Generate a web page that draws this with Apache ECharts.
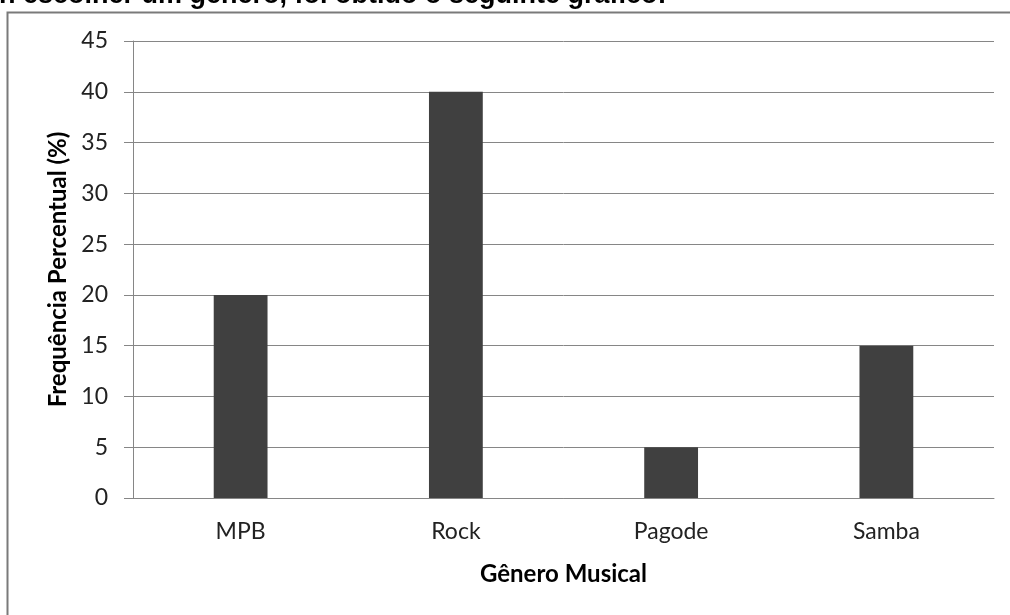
<!DOCTYPE html>
<html>
<head>
<meta charset="utf-8">
<script src="https://cdn.jsdelivr.net/npm/echarts@6/dist/echarts.min.js"></script>
<style>
html,body{margin:0;padding:0;background:#fff;}
#chart{width:1010px;height:615px;}
</style>
</head>
<body>
<div id="chart"></div>
<script>
const categories = ['MPB', 'Rock', 'Pagode', 'Samba'];
const values = [20, 40, 5, 15];
const yTicks = [0, 5, 10, 15, 20, 25, 30, 35, 40, 45];
const headerText = 'n escolher um gênero, foi obtido o seguinte gráfico:';
const xTitle = 'Gênero Musical';
const yTitle = 'Frequência Percentual (%)';

const chart = echarts.init(document.getElementById('chart'), null, {renderer: 'canvas'});
const font = 'Lato, "Open Sans", sans-serif';
chart.setOption({
  animation: false,
  backgroundColor: '#fff',
  graphic: [
    {
      type: 'rect', z: 0,
      shape: {x: 7.5, y: 12.5, width: 1100, height: 700},
      style: {fill: 'none', stroke: '#7a7a7a', lineWidth: 2}
    },
    {
      type: 'text', z: 10,
      style: {
        text: headerText, x: -1, y: -4.5, verticalAlign: 'middle',
        font: 'bold 27px "Liberation Sans", Arial, sans-serif', fill: '#000'
      }
    }
  ],
  grid: {left: 133, top: 41, right: 16, bottom: 117, containLabel: false},
  xAxis: {
    type: 'category',
    data: categories,
    axisLine: {show: true, lineStyle: {color: '#868686', width: 1}},
    axisTick: {show: false},
    axisLabel: {color: '#222', fontSize: 23, fontFamily: font, margin: 22},
    name: xTitle,
    nameLocation: 'middle',
    nameGap: 64,
    nameTextStyle: {color: '#000', fontSize: 24, fontWeight: 'bold', fontFamily: font}
  },
  yAxis: {
    type: 'value',
    min: 0, max: 45, interval: 5,
    axisLine: {show: true, lineStyle: {color: '#868686', width: 1}},
    axisTick: {show: true, length: 9, lineStyle: {color: '#868686'}},
    axisLabel: {color: '#222', fontSize: 23, fontFamily: font, margin: 25,
      formatter: v => yTicks.includes(v) ? String(v) : ''},
    splitLine: {show: true, lineStyle: {color: '#868686', width: 1}},
    name: yTitle,
    nameLocation: 'middle',
    nameGap: 63,
    nameRotate: 90,
    nameTextStyle: {color: '#000', fontSize: 24, fontWeight: 'bold', fontFamily: font}
  },
  series: [{
    type: 'bar',
    data: values,
    barWidth: '25%',
    itemStyle: {color: '#404040'}
  }]
});
</script>
</body>
</html>
